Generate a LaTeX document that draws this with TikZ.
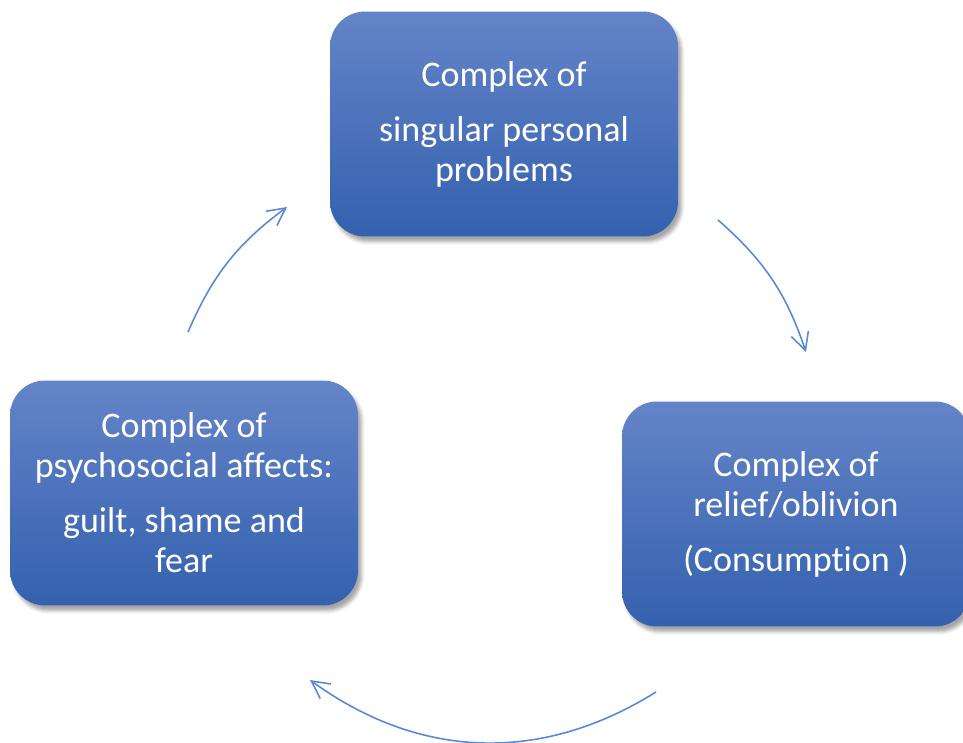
\documentclass[tikz,border=0pt]{standalone}
\usepackage{fontspec}
\setmainfont{Carlito}[Ligatures={NoCommon}]
\usetikzlibrary{arrows.meta, shadows.blur}
\definecolor{ctop}{HTML}{6484C8}
\definecolor{cbot}{HTML}{3461AE}
\definecolor{carrow}{HTML}{5B88D6}
\tikzset{
  every picture/.style={line width=0.9pt},
  box/.style={rounded corners=0.7cm, top color=ctop, bottom color=cbot, minimum width=6.96cm, minimum height=4.5cm,
    align=center, text=white, font=\fontsize{20.5}{22.8}\selectfont,
    blur shadow={shadow xshift=2pt, shadow yshift=-3pt, shadow opacity=35}},
  arrow/.style={-{Straight Barb[length=3.5mm, width=3.6mm]}, draw=carrow},
}
\begin{document}
\begin{tikzpicture}[x=0.02cm, y=-0.02cm]
  \useasboundingbox (0,0) rectangle (963,743);
  % the three complexes of the cycle
  \node[box] (probl) at (504,124) {Complex of\\[0.3cm]singular personal\\problems};
  \node[box] (relief) at (796,514) {Complex of\\relief/oblivion\\[0.3cm](Consumption )};
  \node[box] (affect) at (184,493) {Complex of\\psychosocial affects:\\[0.3cm]guilt, shame and\\fear};
  % arrow ends on a circle round the middle
  \coordinate (p1) at (718,220); \coordinate (p2) at (806,352);
  \coordinate (r1) at (656,692); \coordinate (r2) at (310,680);
  \coordinate (a1) at (188,332); \coordinate (a2) at (287,207);
  \draw[arrow] (p1) to[bend left=15] (p2);
  \draw[arrow] (r1) to[bend left=34] (r2);
  \draw[arrow] (a1) to[bend left=15] (a2);
\end{tikzpicture}
\end{document}
